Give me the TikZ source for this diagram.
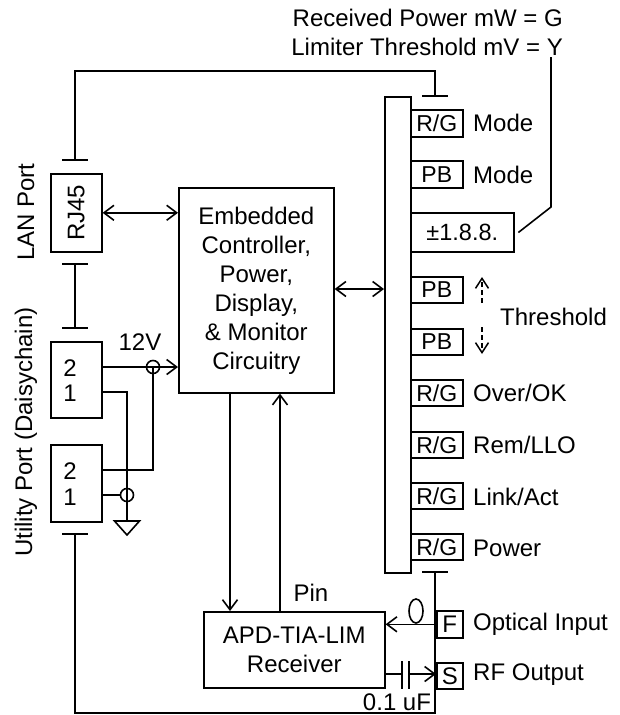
\documentclass[tikz,border=0pt]{standalone}
\usepackage{fontspec}
\setmainfont{Liberation Sans}
\usetikzlibrary{arrows.meta,calc,shapes.geometric}
\tikzset{
  wire/.style={line width=1.6pt,line cap=rect},
  box/.style={draw,line width=1.6pt,inner sep=0pt,font=\fontsize{24}{29}\selectfont,align=center,anchor=north west},
  led/.style={box,font=\fontsize{23}{27}\selectfont,minimum width=52pt},
  lbl/.style={inner sep=0pt,font=\fontsize{24}{29}\selectfont,anchor=west},
  txt/.style={inner sep=0pt,font=\fontsize{24}{29}\selectfont},
  tip/.style={-{Straight Barb[length=10pt,width=15pt,line width=1.6pt]}},
  tips/.style={{Straight Barb[length=10pt,width=15pt,line width=1.6pt]}-{Straight Barb[length=10pt,width=15pt,line width=1.6pt]}},
  junction/.style={draw,circle,line width=1.6pt,minimum size=13pt,inner sep=0pt},
}
\newcommand{\tbar}[1]{\draw[wire] ($(#1)+(-12.5,0)$) -- ($(#1)+(12.5,0)$);}
\begin{document}
\begin{tikzpicture}[x=1pt,y=-1pt]
\useasboundingbox[fill=white] (0,0) rectangle (619,715);
% title
\node[txt,anchor=east] (tg) at (563,18) {Received Power mW = G};
\node[txt,anchor=east] (ty) at (563,47) {Limiter Threshold mV = Y};
% ports
\node[box,minimum width=51pt,minimum height=78pt] (rj) at (50,173) {\rotatebox{90}{RJ45}};
\node[box,minimum width=51pt,minimum height=76pt] (ua) at (50,341) {};
\node[box,minimum width=51pt,minimum height=77pt] (ub) at (50,444) {};
\node[txt] (a2) at (70,368) {2};
\node[txt] (a1) at (70,393) {1};
\node[txt] (b2) at (70,471) {2};
\node[txt] (b1) at (70,497) {1};
\node[txt,rotate=90] (lan) at (26,212) {LAN Port};
\node[txt,rotate=90] (util) at (26,432) {Utility Port (Daisychain)};
% controller
\node[box,minimum width=155pt,minimum height=205pt] (ctrl) at (178,187) {Embedded\\Controller,\\Power,\\Display,\\\& Monitor\\Circuitry};
% receiver
\node[box,minimum width=181pt,minimum height=76pt] (rx) at (203,611) {APD-TIA-LIM\\Receiver};
\node[txt] (pin) at (311,593) {Pin};
% bar
\node[box,minimum width=26pt,minimum height=476pt] (bar) at (384,96) {};
% indicators
\node[led,minimum height=27pt] (i1) at (410,109) {R/G};
\node[led,minimum height=27pt] (i2) at (410,160) {PB};
\node[box,minimum width=103pt,minimum height=39pt] (i3) at (410,212) {\fontsize{23.5}{27}\selectfont ±1.8.8.};
\node[led,minimum height=26pt] (i4) at (410,276) {PB};
\node[led,minimum height=26pt] (i5) at (410,328) {PB};
\node[led,minimum height=26pt] (i6) at (410,379) {R/G};
\node[led,minimum height=26pt] (i7) at (410,431) {R/G};
\node[led,minimum height=26pt] (i8) at (410,482) {R/G};
\node[led,minimum height=26pt] (i9) at (410,533) {R/G};
\node[lbl] (l1) at (473,123) {Mode};
\node[lbl] (l2) at (473,175) {Mode};
\node[lbl] (l6) at (473,393) {Over/OK};
\node[lbl] (l7) at (473,445) {Rem/LLO};
\node[lbl] (l8) at (473,497) {Link/Act};
\node[lbl] (l9) at (473,548) {Power};
\node[lbl] (th) at (500,317) {Threshold};
\node[box,minimum width=26pt,minimum height=27pt] (f) at (436,610) {F};
\node[box,minimum width=26pt,minimum height=26pt] (s) at (436,662) {S};
\node[lbl] (lf) at (473,624) {Optical Input};
\node[lbl] (ls) at (473,675) {RF Output};
\node[txt] (v12) at (140,342) {12V};
\node[txt] (uf) at (397,702) {0.1 uF};
% connector coordinates
\coordinate (tA) at (75,160);
\coordinate (tB) at (75,264);
\coordinate (tC) at (75,328);
\coordinate (tD) at (75,534);
\coordinate (tE) at (435,96);
\coordinate (tF) at (435,572);
\coordinate (c1) at (75,71);
\coordinate (c2) at (435,71);
\coordinate (c3) at (75,713);
\coordinate (c4) at (435,713);
\tbar{tA}\tbar{tB}\tbar{tC}\tbar{tD}\tbar{tE}\tbar{tF}
\draw[wire] (tA) -- (c1) -- (c2) -- (tE);
\draw[wire] (tB) -- (tC);
\draw[wire] (tD) -- (c3) -- (c4) -- (tF);
% controller links
\draw[wire,tips] (rj.east) -- (ctrl.west |- rj.east);
\draw[wire,tips] (ctrl.east |- 0,289) -- (bar.west |- 0,289);
\draw[wire,tip] (ctrl.south -| 230,0) -- (rx.north -| 230,0);
\draw[wire,tip] (rx.north -| 280,0) -- (ctrl.south -| 280,0);
% power
\node[junction] (j1) at (153,367) {};
\node[junction] (j2) at (127,495) {};
\coordinate (g) at (127,521);
\draw[wire,tip] (ua.east |- j1) -- (ctrl.west |- j1);
\draw[wire] (j1.center) -- (153,470) -- (ub.east |- 0,470);
\draw[wire] (ua.east |- 0,392) -- (127,392) -- (g);
\draw[wire] (ub.east |- j2) -- (j2.west);
\draw[wire,line join=miter] ($(g)+(-12.5,0)$) -- ($(g)+(12.5,0)$) -- ($(g)+(0,14)$) -- cycle;
% optical
\draw[wire,tip] (f.west) -- (rx.east |- f.west);
\node[draw,ellipse,line width=1.6pt,minimum width=14pt,minimum height=24pt,inner sep=0pt] (loop) at (416,611) {};
% RF
\coordinate (cp1) at (402,674);
\coordinate (cp2) at (409,674);
\draw[wire] (rx.east |- cp1) -- (cp1);
\draw[wire] (402,662) -- (402,688);
\draw[wire] (409,662) -- (409,688);
\draw[wire,tip] (cp2) -- (s.west |- cp2);
% threshold arrows
\coordinate (u1) at (482,303);
\coordinate (u2) at (482,277);
\coordinate (d1) at (482,327);
\coordinate (d2) at (482,354);
\draw[line width=1.5pt,dash pattern=on 5pt off 3pt,-{Straight Barb[length=10pt,width=13pt,line width=1.5pt]}] (u1) -- (u2);
\draw[line width=1.5pt,dash pattern=on 5pt off 3pt,-{Straight Barb[length=10pt,width=13pt,line width=1.5pt]}] (d1) -- (d2);
% leader
\coordinate (y0) at (551,58);
\coordinate (y1) at (551,207);
\coordinate (y2) at (519,232);
\draw[wire] (y0) -- (y1) -- (y2);
\end{tikzpicture}
\end{document}
